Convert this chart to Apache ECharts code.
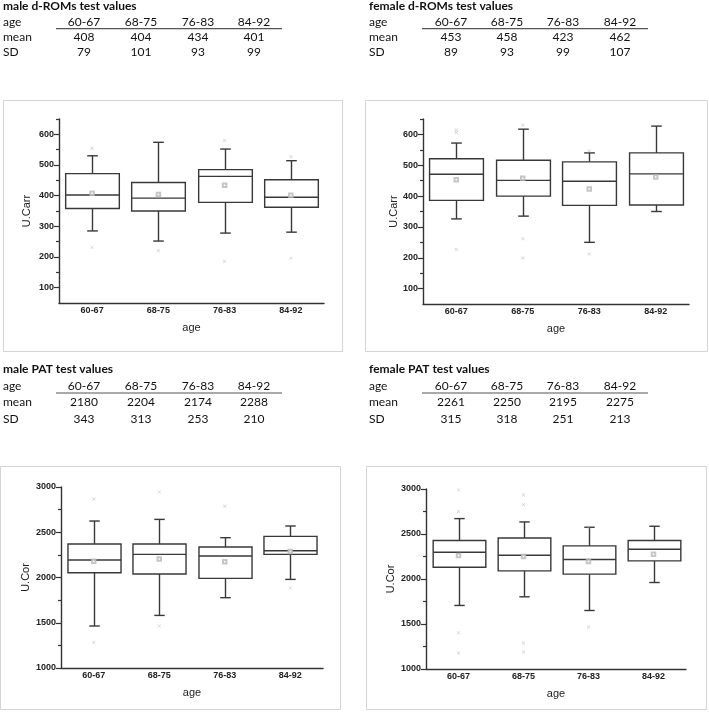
<!DOCTYPE html>
<html>
<head>
<meta charset="utf-8">
<script src="https://cdn.jsdelivr.net/npm/echarts@6/dist/echarts.min.js"></script>
<style>
html,body{margin:0;padding:0;background:#fff;}
#main{width:709px;height:720px;}
</style>
</head>
<body>
<div id="main"></div>
<script>
// ---------- data ----------
const ageGroups = ['60-67', '68-75', '76-83', '84-92'];

const maleDromMean = [408, 404, 434, 401];
const maleDromSD = [79, 101, 93, 99];
const femaleDromMean = [453, 458, 423, 462];
const femaleDromSD = [89, 93, 99, 107];
const malePatMean = [2180, 2204, 2174, 2288];
const malePatSD = [343, 313, 253, 210];
const femalePatMean = [2261, 2250, 2195, 2275];
const femalePatSD = [315, 318, 251, 213];

// [min whisker, Q1, median, Q3, max whisker]
const maleDromBox = [[285, 358, 402, 472, 530], [252, 350, 392, 443, 574], [278, 378, 463, 485, 552], [281, 362, 395, 452, 514]];
const maleDromOut = [[0, 555], [0, 231], [1, 221], [2, 580], [2, 186], [3, 527], [3, 196]];
const femaleDromBox = [[326, 386, 471, 521, 572], [335, 400, 451, 516, 617], [250, 370, 448, 511, 540], [350, 371, 472, 540, 627]];
const femaleDromOut = [[0, 614], [0, 606], [0, 227], [1, 630], [1, 262], [1, 199], [2, 546], [2, 212]];
const malePatBox = [[1464, 2053, 2193, 2370, 2624], [1581, 2039, 2255, 2370, 2642], [1777, 1990, 2238, 2337, 2440], [1979, 2256, 2296, 2454, 2569]];
const malePatOut = [[0, 2867], [0, 1283], [1, 2945], [1, 1464], [2, 2786], [3, 1884]];
const femalePatBox = [[1706, 2131, 2298, 2427, 2671], [1802, 2090, 2264, 2456, 2634], [1650, 2054, 2216, 2368, 2575], [1961, 2201, 2331, 2427, 2586]];
const femalePatOut = [[0, 2989], [0, 2748], [0, 1403], [0, 1177], [1, 2933], [1, 2826], [1, 1288], [1, 1188], [2, 1466], [2, 2578]];

const dromTicks = [100, 200, 300, 400, 500, 600];
const dromMinor = [150, 250, 350, 450, 550, 650];
const patTicks = [1000, 1500, 2000, 2500, 3000];
const patMinor = [1250, 1750, 2250, 2750];

const tableTitles = ['male d-ROMs test values', 'female d-ROMs test values', 'male PAT test values', 'female PAT test values'];
const rowLabels = ['age', 'mean', 'SD'];

// ---------- layout ----------
const FONT = 'Liberation Sans, Arial, sans-serif';
const TFONT = 'Lato, Carlito, Calibri, sans-serif';
const INK = '#333';

const panels = [
  { grid: { left: 59, top: 119, width: 265, height: 184 }, min: 50, max: 650, ticks: dromTicks, minor: dromMinor, name: 'U.Carr', nameGap: 27, box: maleDromBox, out: maleDromOut, mean: maleDromMean },
  { grid: { left: 423, top: 119, width: 266, height: 185 }, min: 50, max: 650, ticks: dromTicks, minor: dromMinor, name: 'U.Carr', nameGap: 23, box: femaleDromBox, out: femaleDromOut, mean: femaleDromMean },
  { grid: { left: 61, top: 487, width: 262, height: 181 }, min: 1000, max: 3000, ticks: patTicks, minor: patMinor, name: 'U.Cor', nameGap: 30, box: malePatBox, out: malePatOut, mean: malePatMean },
  { grid: { left: 426, top: 489, width: 260, height: 180 }, min: 1000, max: 3000, ticks: patTicks, minor: patMinor, name: 'U.Cor', nameGap: 30, box: femalePatBox, out: femalePatOut, mean: femalePatMean }
];

const grids = [], xAxes = [], yAxes = [], series = [];
panels.forEach((p, k) => {
  grids.push(p.grid);
  xAxes.push({
    type: 'category', gridIndex: k, data: ageGroups, boundaryGap: true,
    name: 'age', nameLocation: 'middle', nameGap: 19,
    nameTextStyle: { fontFamily: FONT, fontSize: 11, color: '#222' },
    axisLine: { lineStyle: { color: INK, width: 1.4 } },
    axisTick: { alignWithLabel: true, length: 4, lineStyle: { color: INK, width: 1.2 } },
    axisLabel: { fontFamily: FONT, fontSize: 9, fontWeight: 'bold', color: '#222', margin: 3 },
    splitLine: { show: false }
  });
  yAxes.push({
    type: 'value', gridIndex: k, min: p.min, max: p.max,
    name: p.name, nameLocation: 'middle', nameGap: p.nameGap, nameRotate: 90,
    nameTextStyle: { fontFamily: FONT, fontSize: 11, color: '#222' },
    axisLine: { show: true, lineStyle: { color: INK, width: 1.4 } },
    axisTick: { show: true, length: 5, customValues: p.ticks, lineStyle: { color: INK, width: 1.2 } },
    axisLabel: { customValues: p.ticks, formatter: v => String(v), fontFamily: FONT, fontSize: 9, fontWeight: 'bold', color: '#222', margin: 5 },
    splitLine: { show: false }
  });
  yAxes.push({
    type: 'value', gridIndex: k, min: p.min, max: p.max, position: 'left',
    axisLine: { show: false },
    axisTick: { show: true, length: 3, customValues: p.minor, lineStyle: { color: INK, width: 1.2 } },
    axisLabel: { show: false },
    splitLine: { show: false }
  });
  series.push({
    type: 'custom', xAxisIndex: k, yAxisIndex: 2 * k,
    data: p.box.map((b, i) => [i].concat(b)),
    encode: { x: 0, y: [1, 2, 3, 4, 5] },
    renderItem: function (params, api) {
      const idx = api.value(0);
      const lo = api.coord([idx, api.value(1)]);
      const q1 = api.coord([idx, api.value(2)]);
      const md = api.coord([idx, api.value(3)]);
      const q3 = api.coord([idx, api.value(4)]);
      const hi = api.coord([idx, api.value(5)]);
      const band = api.size([1, 0])[0];
      const hw = band * 0.405, cw = band * 0.08;
      const x = Math.round(lo[0]) + 0.5;
      const st = { stroke: '#383838', fill: null, lineWidth: 1.4 };
      return {
        type: 'group', children: [
          { type: 'line', shape: { x1: x, y1: q3[1], x2: x, y2: hi[1] }, style: st },
          { type: 'line', shape: { x1: x, y1: q1[1], x2: x, y2: lo[1] }, style: st },
          { type: 'line', shape: { x1: x - cw, y1: hi[1], x2: x + cw, y2: hi[1] }, style: st },
          { type: 'line', shape: { x1: x - cw, y1: lo[1], x2: x + cw, y2: lo[1] }, style: st },
          { type: 'rect', shape: { x: x - hw, y: q3[1], width: 2 * hw, height: q1[1] - q3[1] }, style: { stroke: '#383838', fill: '#fff', lineWidth: 1.4 } },
          { type: 'line', shape: { x1: x - hw, y1: md[1], x2: x + hw, y2: md[1] }, style: st }
        ]
      };
    },
    silent: true, z: 2
  });
  series.push({
    type: 'scatter', xAxisIndex: k, yAxisIndex: 2 * k,
    data: p.mean.map((m, i) => [i, m]),
    symbol: 'emptyRect', symbolSize: 3.5,
    itemStyle: { color: '#b8b8b8', borderColor: '#b8b8b8', borderWidth: 0.7 },
    silent: true, z: 5
  });
  series.push({
    type: 'scatter', xAxisIndex: k, yAxisIndex: 2 * k,
    data: p.out,
    symbol: 'path://M0,1L1,0L5,4L9,0L10,1L6,5L10,9L9,10L5,6L1,10L0,9L4,5Z', symbolSize: 3.5,
    itemStyle: { color: '#b8b8b8' },
    silent: true, z: 5
  });
});

// ---------- tables and frames (graphic) ----------
const tables = [
  { x0: 3, cols: [84, 141, 198, 254], line: [56, 282], yT: 6, yA: 21.7, yL: 28.7, yM: 37.3, yS: 52.3, mean: maleDromMean, sd: maleDromSD },
  { x0: 369, cols: [451, 507, 563, 620], line: [422, 648], yT: 6, yA: 21.7, yL: 28.7, yM: 37.3, yS: 52.3, mean: femaleDromMean, sd: femaleDromSD },
  { x0: 3, cols: [84, 141, 198, 254], line: [56, 282], yT: 369.5, yA: 386, yL: 393, yM: 402.3, yS: 418.7, mean: malePatMean, sd: malePatSD },
  { x0: 369, cols: [451, 507, 563, 620], line: [422, 648], yT: 369.5, yA: 386, yL: 393, yM: 402.3, yS: 418.7, mean: femalePatMean, sd: femalePatSD }
];
const graphic = [];
const frames = [
  { x: 3.5, y: 100.5, w: 339, h: 251 },
  { x: 365.5, y: 100.5, w: 342, h: 251 },
  { x: 0.5, y: 466.5, w: 340, h: 243 },
  { x: 366.5, y: 466.5, w: 340, h: 243 }
];
frames.forEach(f => graphic.push({ type: 'rect', shape: { x: f.x, y: f.y, width: f.w, height: f.h }, style: { fill: null, stroke: '#d4d4d4', lineWidth: 1 }, silent: true }));

function txt(x, y, s, align, bold) {
  return { type: 'text', x: x, y: y, silent: true, style: { text: s, fontFamily: TFONT, fontSize: 12, fontWeight: bold ? 'bold' : 'normal', fill: '#111', textAlign: align, textVerticalAlign: 'middle' } };
}
tables.forEach((t, k) => {
  graphic.push(txt(t.x0, t.yT, tableTitles[k], 'left', true));
  graphic.push(txt(t.x0, t.yA, rowLabels[0], 'left'));
  graphic.push(txt(t.x0, t.yM, rowLabels[1], 'left'));
  graphic.push(txt(t.x0, t.yS, rowLabels[2], 'left'));
  ageGroups.forEach((a, i) => {
    graphic.push(txt(t.cols[i], t.yA, a, 'center'));
    graphic.push(txt(t.cols[i], t.yM, String(t.mean[i]), 'center'));
    graphic.push(txt(t.cols[i], t.yS, String(t.sd[i]), 'center'));
  });
  graphic.push({ type: 'line', silent: true, shape: { x1: t.line[0], y1: t.yL, x2: t.line[1], y2: t.yL }, style: { stroke: '#555', lineWidth: 1.2 } });
});

const chart = echarts.init(document.getElementById('main'), null, { renderer: 'canvas' });
chart.setOption({
  backgroundColor: '#fff',
  animation: false,
  grid: grids, xAxis: xAxes, yAxis: yAxes, series: series,
  graphic: graphic
});
</script>
</body>
</html>
